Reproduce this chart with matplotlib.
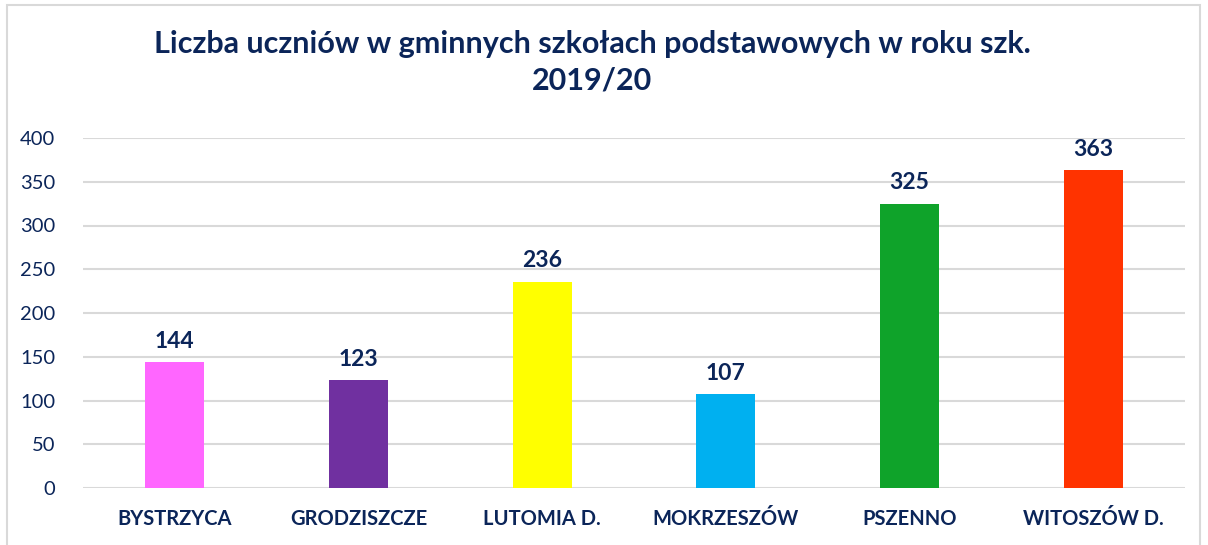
import matplotlib.pyplot as plt
from matplotlib.patches import Rectangle

categories = ["BYSTRZYCA", "GRODZISZCZE", "LUTOMIA D.", "MOKRZESZÓW", "PSZENNO", "WITOSZÓW D."]
values = [144, 123, 236, 107, 325, 363]
bar_colors = ["#FF66FF", "#7030A0", "#FFFF00", "#00B0F0", "#0FA32A", "#FF3300"]
yticks = [0, 50, 100, 150, 200, 250, 300, 350, 400]
title = "Liczba uczniów w gminnych szkołach podstawowych w roku szk.\n2019/20"

navy = "#0B2559"
plt.rcParams['font.family'] = ['Lato', 'DejaVu Sans']

fig = plt.figure(figsize=(12.08, 5.45), dpi=100)
ax = fig.add_axes([83 / 1208, 1 - 488 / 545, 1102 / 1208, 350 / 545])

x = range(len(categories))
ax.bar(x, values, width=0.32, color=bar_colors, zorder=3)

for xi, v in zip(x, values):
    ax.text(xi, v + 12, str(v), ha='center', va='bottom', fontsize=16.5,
            fontweight='bold', color=navy)

ax.set_xlim(-0.5, len(categories) - 0.5)
ax.set_ylim(0, 400)
ax.set_yticks(yticks)
ax.set_xticks(list(x))
ax.set_xticklabels(categories, fontsize=14.5, fontweight='bold', color=navy)
ax.tick_params(axis='y', labelsize=14.5, labelcolor=navy, length=0, pad=20)
ax.tick_params(axis='x', length=0, pad=15)
ax.yaxis.grid(True, color="#D9D9D9", linewidth=1.5, zorder=0)
for s in ax.spines.values():
    s.set_visible(False)

fig.text(592 / 1208, 1 - 62 / 545, title, ha='center', va='center', fontsize=22,
         fontweight='bold', color=navy, linespacing=1.35)

fig.patches.append(Rectangle((7 / 1208, -0.05), 1193 / 1208, 1.0 - 5 / 545 + 0.05,
                             transform=fig.transFigure, fill=False,
                             edgecolor="#D9D9D9", linewidth=1.5))

fig.savefig("out.png", dpi=100)
